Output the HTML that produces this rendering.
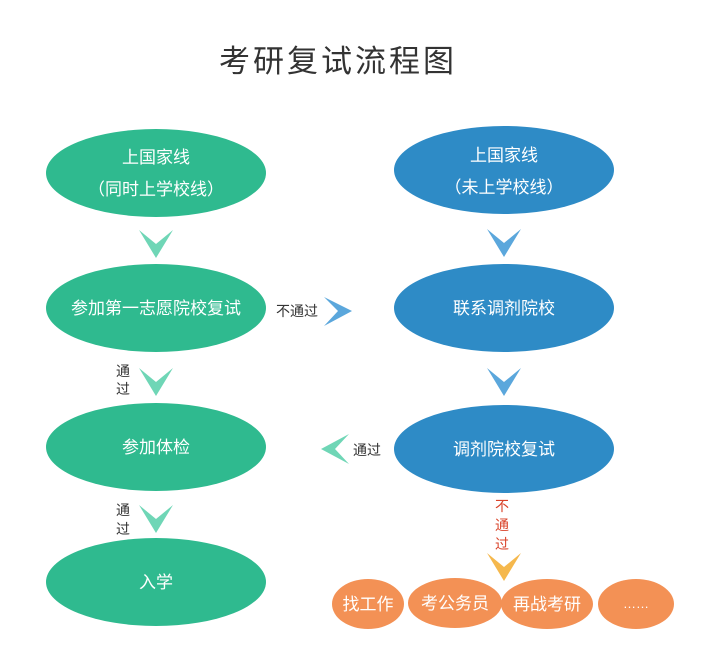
<!DOCTYPE html>
<html><head><meta charset="utf-8"><style>
body{margin:0;background:#fff;width:727px;height:664px;overflow:hidden;font-family:"Liberation Sans","Noto Sans CJK SC",sans-serif}
svg text{font-family:"Liberation Sans","Noto Sans CJK SC",sans-serif}
</style></head><body>
<svg width="727" height="664" viewBox="0 0 727 664">
<text x="338" y="72" font-size="31" fill="#333" text-anchor="middle" letter-spacing="3">考研复试流程图</text>
<g fill="#2fba8f">
<ellipse cx="156" cy="173" rx="110" ry="44"/>
<ellipse cx="156" cy="308" rx="110" ry="44"/>
<ellipse cx="156" cy="447" rx="110" ry="44"/>
<ellipse cx="156" cy="582" rx="110" ry="44"/>
</g>
<g fill="#2e8bc6">
<ellipse cx="504" cy="170" rx="110" ry="44"/>
<ellipse cx="504" cy="308" rx="110" ry="44"/>
<ellipse cx="504" cy="449" rx="110" ry="44"/>
</g>
<g fill="#f39155">
<ellipse cx="368" cy="604" rx="36" ry="25"/>
<ellipse cx="455" cy="603" rx="47" ry="25"/>
<ellipse cx="547" cy="604" rx="46" ry="25"/>
<ellipse cx="636" cy="604" rx="38" ry="25"/>
</g>
<g fill="#fff" font-size="17" text-anchor="middle">
<text x="156" y="163">上国家线</text>
<text x="156" y="195">（同时上学校线）</text>
<text x="156" y="314">参加第一志愿院校复试</text>
<text x="156" y="453">参加体检</text>
<text x="156" y="588">入学</text>
<text x="504" y="161">上国家线</text>
<text x="504" y="193">（未上学校线）</text>
<text x="504" y="314">联系调剂院校</text>
<text x="504" y="455">调剂院校复试</text>
<text x="368" y="610">找工作</text>
<text x="455" y="609">考公务员</text>
<text x="547" y="610">再战考研</text>
<text x="636" y="608" font-size="13">……</text>
</g>
<g fill="#6fd6b6">
<path d="M139 230 L156 244 L173 230 L156 258 Z"/>
<path d="M139 368 L156 382 L173 368 L156 396 Z"/>
<path d="M139 505 L156 519 L173 505 L156 533 Z"/>
<path d="M349 434 L335 449 L349 464 L321 449 Z"/>
</g>
<g fill="#5ba7dc">
<path d="M487 229 L504 243 L521 229 L504 257 Z"/>
<path d="M487 368 L504 382 L521 368 L504 396 Z"/>
<path d="M324 297 L338 311 L324 326 L352 311 Z"/>
</g>
<path d="M487 553 L504 567 L521 553 L504 581 Z" fill="#f5b84d"/>
<g fill="#333" font-size="14">
<text x="276" y="316">不通过</text>
<text x="353" y="455">通过</text>
<text x="116" y="376">通</text><text x="116" y="394">过</text>
<text x="116" y="515">通</text><text x="116" y="534">过</text>
</g>
<g fill="#d9432a" font-size="14" text-anchor="middle">
<text x="502" y="511">不</text><text x="502" y="530">通</text><text x="502" y="549">过</text>
</g>
</svg>
</body></html>
